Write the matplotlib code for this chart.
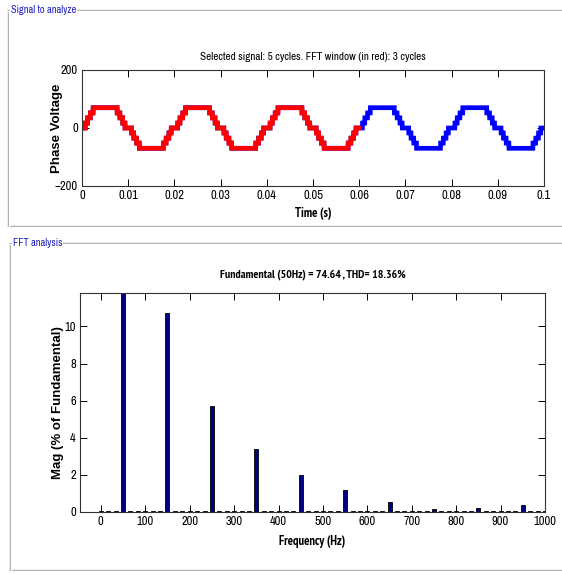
import numpy as np
import matplotlib
matplotlib.use("Agg")
import matplotlib.pyplot as plt
from matplotlib.lines import Line2D

# ---- data ----
# staircase of one quarter cycle (time from zero crossing, level)
step_t = [0.0, 0.0007, 0.0012, 0.0018, 0.0024]
step_v = [0, 17, 35, 52, 70]
f0 = 50.0
t_end = 0.1
fft_end = 0.06   # 3 cycles in red

# FFT bins: 3-cycle window -> 50/3 Hz resolution
bin_hz = 50.0 / 3
mags = [0.07, 0.07, 0.07, 100.0, 0.07, 0.07,
        0.07, 0.07, 0.07, 10.7, 0.07, 0.07,
        0.07, 0.07, 0.07, 5.7, 0.07, 0.07,
        0.07, 0.07, 0.07, 3.42, 0.07, 0.07,
        0.07, 0.07, 0.07, 2.02, 0.07, 0.07,
        0.07, 0.07, 0.07, 1.2, 0.07, 0.07,
        0.07, 0.07, 0.07, 0.54, 0.07, 0.07,
        0.07, 0.07, 0.07, 0.16, 0.07, 0.07,
        0.07, 0.07, 0.07, 0.19, 0.07, 0.07,
        0.07, 0.07, 0.07, 0.38, 0.07, 0.07,
        0.07]
freqs = np.arange(len(mags)) * bin_hz

time_ticks = [0, 0.01, 0.02, 0.03, 0.04, 0.05, 0.06, 0.07, 0.08, 0.09, 0.1]
time_labels = ["0", "0.01", "0.02", "0.03", "0.04", "0.05", "0.06", "0.07", "0.08", "0.09", "0.1"]
freq_ticks = [0, 100, 200, 300, 400, 500, 600, 700, 800, 900, 1000]

# build the stepped waveform from the quarter-cycle steps
t = np.linspace(0, t_end, 10001)
period = 1 / f0
phase = np.mod(t, period)
half = np.mod(phase, period / 2)
d = np.minimum(half, period / 2 - half)
idx = np.searchsorted(step_t, d, side="right") - 1
v = np.array(step_v)[idx] * np.where(phase < period / 2, 1, -1)

narrow = ["Arial Narrow", "Liberation Sans Narrow", "Archivo Narrow", "PT Sans Narrow",
          "Roboto Condensed", "Fira Sans Condensed", "Barlow Condensed", "DejaVu Sans"]
narrow_bold = ["PT Sans Narrow", "Roboto Condensed", "Fira Sans Condensed",
               "Barlow Condensed", "Archivo Narrow", "DejaVu Sans"]
bold_font = ["Liberation Sans", "DejaVu Sans"]
plt.rcParams["font.family"] = narrow

fig = plt.figure(figsize=(5.62, 5.74), dpi=100)
W, H = 562.0, 574.0

def fx(px):
    return px / W

def fy(py):
    return 1 - py / H

# group box frames
def frame(x0, y0, y1, title):
    col = "#a0a0a0"
    for dx, c in [(0, col), (1, "white")]:
        fig.add_artist(Line2D([fx(x0 + dx), fx(x0 + dx)], [fy(y0 + dx), fy(y1)], color=c, lw=1))
        fig.add_artist(Line2D([fx(x0), 1], [fy(y0 + dx), fy(y0 + dx)], color=c, lw=1))
        fig.add_artist(Line2D([fx(x0), 1], [fy(y1 + dx), fy(y1 + dx)], color=c, lw=1))
    fig.text(fx(x0 + 3), fy(y0), title, color="#2020c0", fontsize=7.5,
             va="center", ha="left",
             bbox=dict(facecolor="white", edgecolor="none", pad=0.5))

frame(8, 10, 226, "Signal to analyze")
frame(10, 243, 570, "FFT analysis")

# ---- signal plot ----
ax1 = fig.add_axes([fx(82), fy(186), fx(544) - fx(82), fy(70) - fy(186)])
ax1.plot(t, v, color="blue", lw=3.4, solid_joinstyle="miter")
m = t <= fft_end
ax1.plot(t[m], v[m], color="red", lw=3.4, solid_joinstyle="miter")
ax1.set_xlim(0, t_end)
ax1.set_ylim(-200, 200)
ax1.set_yticks([-200, 0, 200])
ax1.set_xticks(time_ticks)
ax1.set_xticklabels(time_labels)
ax1.set_title("Selected signal: 5 cycles. FFT window (in red): 3 cycles",
              fontsize=8, pad=7)
ax1.set_xlabel("Time (s)", fontsize=9, fontweight="bold", family=narrow_bold,
               labelpad=4)
ax1.set_ylabel("Phase Voltage", fontsize=9.5, fontweight="bold", family=bold_font)
ax1.yaxis.set_label_coords(-0.042, 0.5)

# ---- FFT plot ----
ax2 = fig.add_axes([fx(80), fy(512), fx(545) - fx(80), fy(293) - fy(512)])
ax2.bar(freqs, mags, width=9, color="#000080", edgecolor="black", linewidth=0.6)
ax2.set_xlim(-47, 1000)
ax2.set_ylim(0, 11.8)
ax2.set_xticks(freq_ticks)
ax2.set_yticks([0, 2, 4, 6, 8, 10])
ax2.set_title("Fundamental (50Hz) = 74.64 , THD= 18.36%", fontsize=8.5,
              fontweight="bold", family=narrow_bold, pad=11)
ax2.set_xlabel("Frequency (Hz)", fontsize=9, fontweight="bold", family=narrow_bold,
               labelpad=6)
ax2.set_ylabel("Mag (% of Fundamental)", fontsize=9.5, fontweight="bold",
               family=bold_font)
ax2.yaxis.set_label_coords(-0.034, 0.5)

for ax in (ax1, ax2):
    ax.tick_params(direction="in", top=True, right=True, labelsize=9,
                   length=5, width=0.7, pad=3)
    for s in ax.spines.values():
        s.set_color("#333333")
        s.set_linewidth(0.8)

fig.savefig("out.png", dpi=100)
